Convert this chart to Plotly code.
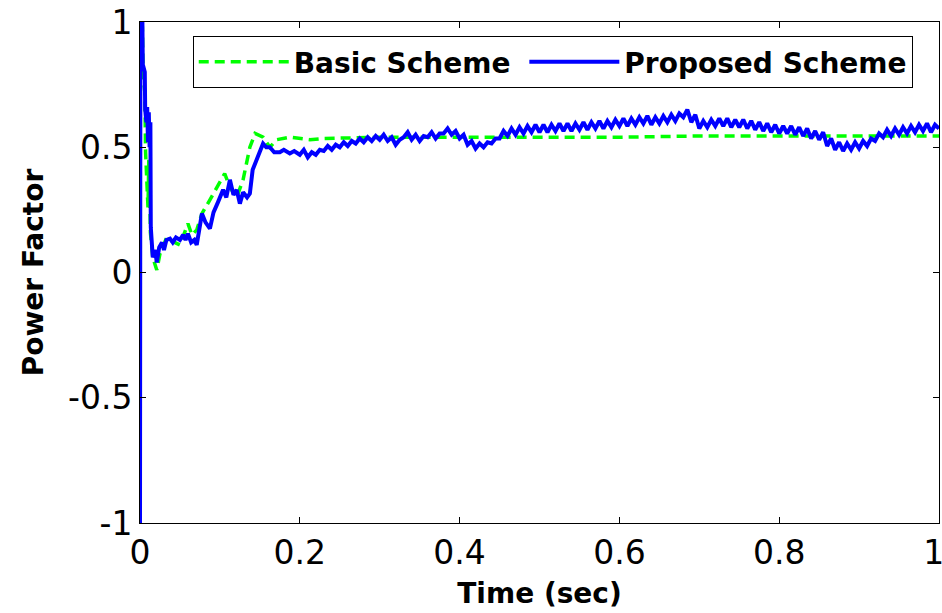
import numpy as np
import plotly.graph_objects as go

# ---------------- data ----------------
basic_t = [0.0, 0.003, 0.004, 0.006, 0.007, 0.009, 0.010, 0.011, 0.012, 0.0125,
           0.013, 0.016, 0.021, 0.025, 0.0335, 0.040, 0.050, 0.060, 0.065, 0.071,
           0.0775, 0.0875, 0.096, 0.106, 0.1125, 0.121, 0.129, 0.134, 0.1375, 0.144,
           0.154, 0.1625, 0.171, 0.1875, 0.204, 0.2125, 0.23, 0.30, 0.40, 0.50,
           0.60, 0.70, 0.80, 0.90, 1.00]
basic_pf = [1.0, 0.98, 0.78, 0.72, 0.48, 0.30, 0.26, 0.45, 0.40, 0.27,
            0.16, 0.06, 0.01, 0.075, 0.14, 0.125, 0.11, 0.195, 0.15, 0.17,
            0.235, 0.29, 0.34, 0.395, 0.34, 0.30, 0.37, 0.45, 0.50, 0.555,
            0.54, 0.50, 0.53, 0.54, 0.535, 0.53, 0.535, 0.54, 0.54, 0.54,
            0.54, 0.545, 0.545, 0.545, 0.545]

prop_t_early = [0.0, 0.0005, 0.003, 0.0035, 0.006, 0.0065, 0.008, 0.009, 0.010, 0.011,
                0.012, 0.013, 0.0135, 0.016, 0.019, 0.021, 0.024, 0.0275, 0.030, 0.033,
                0.0375, 0.041, 0.045, 0.050, 0.054, 0.057, 0.060, 0.064, 0.068, 0.071,
                0.0775, 0.082, 0.0875, 0.092, 0.0975, 0.104, 0.108, 0.1125, 0.117, 0.121,
                0.125, 0.129, 0.134, 0.1375, 0.141, 0.1475, 0.154, 0.158, 0.1625, 0.168,
                0.175, 0.180, 0.1875, 0.193]
prop_pf_early = [-1.0, 1.0, 1.0, 0.83, 0.80, 0.65, 0.60, 0.66, 0.52, 0.64,
                 0.50, 0.60, 0.18, 0.06, 0.09, 0.04, 0.10, 0.12, 0.09, 0.13,
                 0.135, 0.12, 0.14, 0.13, 0.15, 0.13, 0.155, 0.12, 0.13, 0.11,
                 0.235, 0.20, 0.175, 0.24, 0.28, 0.33, 0.30, 0.37, 0.31, 0.33,
                 0.275, 0.32, 0.30, 0.315, 0.41, 0.46, 0.515, 0.50, 0.50, 0.48,
                 0.48, 0.49, 0.475, 0.485]

# sampled every 5 ms from 0.2 s to 1.0 s
prop_t_late = np.round(np.linspace(0.2, 1.0, 161), 4).tolist()
prop_pf_late = [
    0.47, 0.49, 0.46, 0.48, 0.47, 0.49, 0.485, 0.505, 0.49, 0.51,
    0.50, 0.52, 0.505, 0.525, 0.515, 0.535, 0.52, 0.54, 0.525, 0.545,
    0.53, 0.55, 0.525, 0.54, 0.51, 0.53, 0.54, 0.56, 0.53, 0.55,
    0.525, 0.545, 0.54, 0.56, 0.535, 0.555, 0.555, 0.575, 0.55, 0.565,
    0.535, 0.55, 0.51, 0.525, 0.495, 0.515, 0.50, 0.52, 0.515, 0.535,
    0.535, 0.565, 0.545, 0.575, 0.55, 0.58, 0.555, 0.585, 0.56, 0.59,
    0.56, 0.59, 0.56, 0.59, 0.565, 0.595, 0.565, 0.595, 0.565, 0.595,
    0.57, 0.60, 0.57, 0.60, 0.575, 0.605, 0.575, 0.605, 0.58, 0.61,
    0.585, 0.615, 0.585, 0.615, 0.59, 0.62, 0.595, 0.625, 0.59, 0.62,
    0.595, 0.625, 0.60, 0.63, 0.605, 0.635, 0.62, 0.65, 0.60, 0.63,
    0.575, 0.605, 0.58, 0.61, 0.585, 0.615, 0.585, 0.615, 0.58, 0.61,
    0.58, 0.61, 0.575, 0.605, 0.57, 0.60, 0.565, 0.595, 0.56, 0.59,
    0.555, 0.585, 0.555, 0.585, 0.55, 0.58, 0.545, 0.575, 0.535, 0.565,
    0.53, 0.56, 0.505, 0.535, 0.49, 0.52, 0.485, 0.515, 0.49, 0.52,
    0.495, 0.525, 0.505, 0.535, 0.525, 0.555, 0.54, 0.57, 0.545, 0.575,
    0.55, 0.58, 0.555, 0.585, 0.56, 0.59, 0.565, 0.595, 0.56, 0.59,
    0.575]

prop_t = prop_t_early + prop_t_late
prop_pf = prop_pf_early + prop_pf_late

x_ticks = [0, 0.2, 0.4, 0.6, 0.8, 1]
x_tick_labels = ["0", "0.2", "0.4", "0.6", "0.8", "1&nbsp;"]
y_ticks = [-1, -0.5, 0, 0.5, 1]
y_tick_labels = ["-1", "-0.5", "0", "0.5", "1"]

FONT = "DejaVu Sans, Arial, sans-serif"

# ---------------- figure ----------------
fig = go.Figure()
fig.add_trace(go.Scatter(
    x=basic_t, y=basic_pf, mode="lines", name="<b>Basic Scheme</b>&nbsp;",
    line=dict(color="#00FF00", width=3.5, dash="10px,6px")))
fig.add_trace(go.Scatter(
    x=prop_t, y=prop_pf, mode="lines", name="<b>Proposed Scheme</b>",
    line=dict(color="#0000FF", width=4)))

axis_common = dict(
    showline=True, linecolor="black", linewidth=1, mirror="ticks",
    ticks="inside", ticklen=6, tickcolor="black", tickwidth=1,
    showgrid=False, zeroline=False, automargin=False,
    ticklabeloverflow="allow",
    tickfont=dict(family=FONT, size=33, color="black"),
)

fig.update_layout(
    width=942, height=613,
    paper_bgcolor="white", plot_bgcolor="white",
    margin=dict(l=140, r=3, t=22, b=90),
    xaxis=dict(range=[0, 1], tickvals=x_ticks, ticktext=x_tick_labels,
               title=dict(text="<b>Time (sec)</b>", standoff=12,
                          font=dict(family=FONT, size=28, color="black")),
               **axis_common),
    yaxis=dict(range=[-1, 1], tickvals=y_ticks, ticktext=y_tick_labels,
               title=dict(text="<b>Power Factor</b>", standoff=16,
                          font=dict(family=FONT, size=28, color="black")),
               **axis_common),
    legend=dict(
        orientation="h", x=0.066, y=0.972, xanchor="left", yanchor="top",
        bgcolor="white", bordercolor="black", borderwidth=1,
        itemwidth=90,
        font=dict(family=FONT, size=28, color="black"),
        traceorder="normal",
    ),
    showlegend=True,
)

fig.write_html(
    "out.html",
    config={"displayModeBar": False},
    post_script="document.body.style.margin='0';document.body.style.overflow='hidden';",
)
